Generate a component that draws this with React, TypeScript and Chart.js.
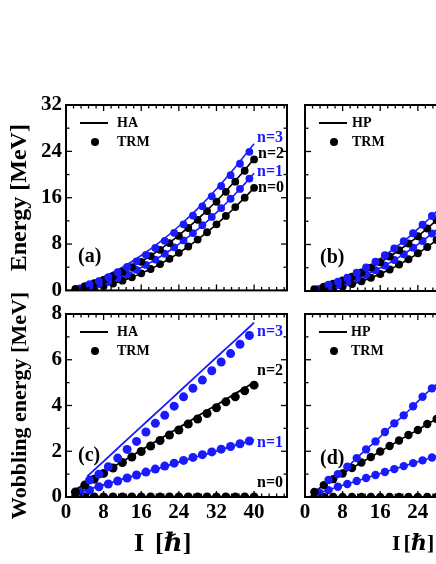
import React, { useEffect, useRef } from 'react';
import { Chart, registerables } from 'chart.js';

Chart.register(...registerables);

const BLUE = '#1a1aff';
const BLACK = '#000000';
const SERIF = '"Liberation Serif", "Times New Roman", "DejaVu Serif", serif';

// spin values
const I_EVEN = [2, 4, 6, 8, 10, 12, 14, 16, 18, 20, 22, 24, 26, 28, 30, 32, 34, 36, 38, 40];
const I_ODD_N1 = [3, 5, 7, 9, 11, 13, 15, 17, 19, 21, 23, 25, 27, 29, 31, 33, 35, 37, 39];
const I_ODD_N3 = [5, 7, 9, 11, 13, 15, 17, 19, 21, 23, 25, 27, 29, 31, 33, 35, 37, 39];
const I_HA_N3 = [4.5, 8, 12, 16, 20, 24, 28, 32, 36, 40];
const X_TICKS = [0, 8, 16, 24, 32, 40];

// panel (a)/(b): energies [MeV], TRM
const E_TRM_N0 = [0.06, 0.22, 0.45, 0.78, 1.19, 1.68, 2.27, 2.94, 3.69, 4.54, 5.46, 6.48, 7.58, 8.77, 10.04, 11.4, 12.85, 14.39, 16.01, 17.71];
const E_TRM_N1 = [0.33, 0.62, 1.05, 1.54, 2.13, 2.8, 3.55, 4.39, 5.32, 6.34, 7.44, 8.62, 9.89, 11.25, 12.68, 14.21, 15.82, 17.51, 19.3];
const E_TRM_N2 = [0.28, 0.74, 1.23, 1.81, 2.46, 3.19, 4.02, 4.93, 5.92, 7.01, 8.17, 9.41, 10.77, 12.18, 13.69, 15.3, 17.01, 18.77, 20.65, 22.6];
const E_TRM_N3 = [1.06, 1.6, 2.29, 3.13, 4.05, 5.02, 6.14, 7.32, 8.56, 9.93, 11.4, 12.91, 14.51, 16.23, 18.02, 19.88, 21.86, 23.91];

// panel (a): energies [MeV], HA
const E_HA_N0 = [0.06, 0.22, 0.45, 0.78, 1.19, 1.68, 2.27, 2.94, 3.69, 4.54, 5.46, 6.48, 7.58, 8.77, 10.04, 11.4, 12.85, 14.39, 16.01, 17.71];
const E_HA_N1 = [0.22, 0.5, 0.86, 1.31, 1.84, 2.46, 3.17, 3.96, 4.84, 5.81, 6.85, 8.0, 9.22, 10.54, 11.93, 13.41, 14.99, 16.65, 18.39, 20.22];
const E_HA_N2 = [0.38, 0.78, 1.26, 1.84, 2.5, 3.23, 4.07, 4.99, 5.98, 7.08, 8.25, 9.51, 10.86, 12.3, 13.82, 15.42, 17.12, 18.91, 20.77, 22.72];
const E_HA_N3 = [1.17, 2.34, 4.0, 6.02, 8.37, 11.07, 14.12, 17.51, 21.25, 25.33];

// panel (c)/(d): wobbling energies [MeV], TRM
const W_TRM_N0 = [0, 0, 0, 0, 0, 0, 0, 0, 0, 0, 0, 0, 0, 0, 0, 0, 0, 0, 0, 0];
const W_TRM_N1 = [0.2, 0.3, 0.45, 0.57, 0.7, 0.83, 0.96, 1.09, 1.22, 1.35, 1.48, 1.6, 1.73, 1.85, 1.97, 2.09, 2.21, 2.33, 2.45];
const W_TRM_N2 = [0.22, 0.52, 0.78, 1.03, 1.27, 1.51, 1.75, 1.99, 2.23, 2.47, 2.71, 2.93, 3.19, 3.41, 3.65, 3.9, 4.16, 4.38, 4.64, 4.89];
const W_TRM_N3 = [0.74, 1.0, 1.32, 1.7, 2.08, 2.43, 2.84, 3.22, 3.57, 3.97, 4.38, 4.75, 5.11, 5.52, 5.9, 6.27, 6.68, 7.06];

// panel (c): wobbling energies [MeV], HA
const W_HA_N0 = [0, 0, 0, 0, 0, 0, 0, 0, 0, 0, 0, 0, 0, 0, 0, 0, 0, 0, 0, 0];
const W_HA_N1 = [0.16, 0.28, 0.41, 0.53, 0.65, 0.78, 0.9, 1.02, 1.15, 1.27, 1.39, 1.52, 1.64, 1.77, 1.89, 2.01, 2.14, 2.26, 2.38, 2.51];
const W_HA_N2 = [0.32, 0.56, 0.81, 1.06, 1.31, 1.55, 1.8, 2.05, 2.29, 2.54, 2.79, 3.03, 3.28, 3.53, 3.78, 4.02, 4.27, 4.52, 4.76, 5.01];
const W_HA_N3 = [0.9, 1.56, 2.32, 3.08, 3.83, 4.59, 5.35, 6.11, 6.86, 7.62];

// panel (b)/(d): HP curves run through the TRM points
const E_HP_N0 = E_TRM_N0;
const E_HP_N1 = E_TRM_N1;
const E_HP_N2 = E_TRM_N2;
const E_HP_N3 = E_TRM_N3;
const W_HP_N0 = W_TRM_N0;
const W_HP_N1 = W_TRM_N1;
const W_HP_N2 = W_TRM_N2;
const W_HP_N3 = W_TRM_N3;

const pts = (xs: number[], ys: number[]) => xs.map((x, i) => ({ x, y: ys[i] }));

function dots(xs: number[], ys: number[], color: string, r: number) {
  return {
    data: pts(xs, ys),
    showLine: false,
    pointRadius: r,
    pointHoverRadius: r,
    pointBackgroundColor: color,
    pointBorderColor: color,
    pointBorderWidth: 0,
    clip: 0,
  };
}

function curve(xs: number[], ys: number[], color: string, w: number) {
  return {
    data: pts(xs, ys),
    showLine: true,
    borderColor: color,
    borderWidth: w,
    pointRadius: 0,
    pointHoverRadius: 0,
    cubicInterpolationMode: 'monotone',
    fill: false,
    clip: 0,
  };
}

type Box = { left: number; top: number; width: number; height: number };
type Plot = { left: number; top: number; right: number; bottom: number };
type NLabel = { text: string; color: string; x: number; y: number };

type Panel = {
  key: string;
  canvas: Box;
  plot: Plot;
  yMax: number;
  yStep: number;
  yMinor: number;
  yLabels: boolean;
  xLabels: boolean;
  yTitle?: string;
  yTitleSize?: number;
  legend: string;
  legendDx: number;
  tag: string;
  tagPos: [number, number];
  nLabels: NLabel[];
  xTitleX?: number;
  xTitleGap?: number;
  xTitleSize?: number;
  datasets: any[];
};

const PANELS: Panel[] = [
  {
    key: 'a',
    canvas: { left: 0, top: 78, width: 300, height: 229 },
    plot: { left: 66, top: 105, right: 287, bottom: 291 },
    yMax: 32, yStep: 8, yMinor: 4, yLabels: true, xLabels: false,
    yTitle: 'Energy [MeV]', yTitleSize: 24,
    legend: 'HA', legendDx: 51,
    tag: '(a)', tagPos: [78, 256.5],
    nLabels: [
      { text: 'n=3', color: BLUE, x: 257, y: 137.5 },
      { text: 'n=2', color: BLACK, x: 258, y: 153.5 },
      { text: 'n=1', color: BLUE, x: 257, y: 172 },
      { text: 'n=0', color: BLACK, x: 258, y: 188 },
    ],
    datasets: [
      dots(I_ODD_N3, E_TRM_N3, BLUE, 3.9),
      dots(I_EVEN, E_TRM_N2, BLACK, 3.9),
      dots(I_ODD_N1, E_TRM_N1, BLUE, 3.9),
      dots(I_EVEN, E_TRM_N0, BLACK, 3.9),
      curve(I_HA_N3, E_HA_N3, BLUE, 1.6),
      curve(I_EVEN, E_HA_N2, BLACK, 1.6),
      curve(I_EVEN, E_HA_N1, BLUE, 1.6),
      curve(I_EVEN, E_HA_N0, BLACK, 1.6),
    ],
  },
  {
    key: 'c',
    canvas: { left: 0, top: 282, width: 300, height: 282 },
    plot: { left: 66, top: 314, right: 287, bottom: 497 },
    yMax: 8, yStep: 2, yMinor: 1, yLabels: true, xLabels: true,
    yTitle: 'Wobbling energy [MeV]', yTitleSize: 22,
    legend: 'HA', legendDx: 51,
    tag: '(c)', tagPos: [78, 455.5],
    nLabels: [
      { text: 'n=3', color: BLUE, x: 257, y: 331.5 },
      { text: 'n=2', color: BLACK, x: 257, y: 371 },
      { text: 'n=1', color: BLUE, x: 257, y: 443 },
      { text: 'n=0', color: BLACK, x: 257, y: 482.5 },
    ],
    xTitleX: 134, xTitleGap: 11, xTitleSize: 26,
    datasets: [
      dots(I_ODD_N3, W_TRM_N3, BLUE, 4.5),
      dots(I_EVEN, W_TRM_N2, BLACK, 4.5),
      dots(I_ODD_N1, W_TRM_N1, BLUE, 4.5),
      dots(I_EVEN, W_TRM_N0, BLACK, 4.5),
      curve(I_HA_N3, W_HA_N3, BLUE, 1.8),
      curve(I_EVEN, W_HA_N2, BLACK, 1.8),
      curve(I_EVEN, W_HA_N1, BLUE, 1.8),
      curve(I_EVEN, W_HA_N0, BLACK, 1.8),
    ],
  },
  {
    key: 'b',
    canvas: { left: 296, top: 78, width: 243, height: 229 },
    plot: { left: 305, top: 105, right: 526, bottom: 291 },
    yMax: 32, yStep: 8, yMinor: 4, yLabels: false, xLabels: false,
    legend: 'HP', legendDx: 47,
    tag: '(b)', tagPos: [320, 258],
    nLabels: [],
    datasets: [
      dots(I_ODD_N3, E_TRM_N3, BLUE, 4),
      dots(I_EVEN, E_TRM_N2, BLACK, 4),
      dots(I_ODD_N1, E_TRM_N1, BLUE, 4),
      dots(I_EVEN, E_TRM_N0, BLACK, 4),
      curve(I_ODD_N3, E_HP_N3, BLUE, 1.6),
      curve(I_EVEN, E_HP_N2, BLACK, 1.6),
      curve(I_ODD_N1, E_HP_N1, BLUE, 1.6),
      curve(I_EVEN, E_HP_N0, BLACK, 1.6),
    ],
  },
  {
    key: 'd',
    canvas: { left: 296, top: 282, width: 243, height: 282 },
    plot: { left: 305, top: 314, right: 526, bottom: 497 },
    yMax: 8, yStep: 2, yMinor: 1, yLabels: false, xLabels: true,
    legend: 'HP', legendDx: 46,
    tag: '(d)', tagPos: [320, 459],
    nLabels: [],
    xTitleX: 392, xTitleGap: 3, xTitleSize: 22,
    datasets: [
      dots(I_ODD_N3, W_TRM_N3, BLUE, 4.2),
      dots(I_EVEN, W_TRM_N2, BLACK, 4.2),
      dots(I_ODD_N1, W_TRM_N1, BLUE, 4.2),
      dots(I_EVEN, W_TRM_N0, BLACK, 4.2),
      curve(I_ODD_N3, W_HP_N3, BLUE, 1.6),
      curve(I_EVEN, W_HP_N2, BLACK, 1.6),
      curve(I_ODD_N1, W_HP_N1, BLUE, 1.6),
      curve(I_EVEN, W_HP_N0, BLACK, 1.6),
    ],
  },
];

function makeDecor(p: Panel) {
  return {
    id: 'decor_' + p.key,
    afterDatasetsDraw(chart: any) {
      const { ctx, chartArea: a, scales } = chart;
      const xs = scales.x;
      const ys = scales.y;
      ctx.save();
      ctx.strokeStyle = '#000';
      ctx.lineWidth = 1.3;
      const seg = (x1: number, y1: number, x2: number, y2: number) => {
        ctx.beginPath();
        ctx.moveTo(x1, y1);
        ctx.lineTo(x2, y2);
        ctx.stroke();
      };
      for (let k = 0; k * 1.6 <= xs.max + 1e-6; k++) {
        const px = xs.getPixelForValue(k * 1.6);
        const len = k % 5 === 0 ? 6 : 3.5;
        seg(px, a.bottom, px, a.bottom - len);
        seg(px, a.top, px, a.top + len);
      }
      const nY = Math.round(p.yMax / p.yMinor);
      const ratio = Math.round(p.yStep / p.yMinor);
      for (let k = 0; k <= nY; k++) {
        const py = ys.getPixelForValue(k * p.yMinor);
        const len = k % ratio === 0 ? 6 : 3.5;
        seg(a.left, py, a.left + len, py);
        seg(a.right, py, a.right - len, py);
      }
      ctx.lineWidth = 2;
      ctx.strokeRect(a.left, a.top, a.right - a.left, a.bottom - a.top);
      ctx.restore();
    },
    afterDraw(chart: any) {
      const { ctx, chartArea: a } = chart;
      const ox = p.canvas.left;
      const oy = p.canvas.top;
      ctx.save();
      // legend
      ctx.strokeStyle = '#000';
      ctx.lineWidth = 2;
      ctx.beginPath();
      ctx.moveTo(a.left + 14, a.top + 18);
      ctx.lineTo(a.left + 42, a.top + 18);
      ctx.stroke();
      ctx.fillStyle = '#000';
      ctx.beginPath();
      ctx.arc(a.left + 29, a.top + 37, 4, 0, Math.PI * 2);
      ctx.fill();
      ctx.font = 'bold 14px ' + SERIF;
      ctx.textBaseline = 'middle';
      ctx.textAlign = 'left';
      ctx.fillText(p.legend, a.left + p.legendDx, a.top + 18);
      ctx.fillText('TRM', a.left + p.legendDx, a.top + 37);
      // panel tag
      ctx.font = 'bold 20px ' + SERIF;
      ctx.fillText(p.tag, p.tagPos[0] - ox, p.tagPos[1] - oy);
      // n labels
      ctx.font = 'bold 16px ' + SERIF;
      for (const l of p.nLabels) {
        ctx.fillStyle = l.color;
        ctx.fillText(l.text, l.x - ox, l.y - oy);
      }
      // x title
      if (p.xTitleX !== undefined) {
        const fs = p.xTitleSize || 26;
        ctx.fillStyle = '#000';
        const y = 544 - oy;
        let x = p.xTitleX - ox;
        ctx.font = `bold ${fs}px ` + SERIF;
        ctx.fillText('I', x, y);
        x += ctx.measureText('I').width + (p.xTitleGap || 6);
        ctx.fillText('[', x, y);
        x += ctx.measureText('[').width;
        ctx.font = `italic bold ${fs}px ` + SERIF;
        ctx.fillText('\u210F', x, y);
        x += ctx.measureText('\u210F').width;
        ctx.font = `bold ${fs}px ` + SERIF;
        ctx.fillText(']', x, y);
      }
      ctx.restore();
    },
  };
}

function PanelChart({ p }: { p: Panel }) {
  const ref = useRef<HTMLCanvasElement | null>(null);
  useEffect(() => {
    if (!ref.current) return;
    const xAxisH = p.canvas.top + p.canvas.height - p.plot.bottom;
    const yAxisW = p.plot.left - p.canvas.left;
    const tickFont = { family: SERIF, size: 21, weight: 'bold' as const };
    const chart = new Chart(ref.current, {
      type: 'scatter',
      data: { datasets: p.datasets as any },
      plugins: [makeDecor(p)],
      options: {
        animation: false,
        responsive: false,
        maintainAspectRatio: false,
        devicePixelRatio: 1,
        events: [],
        layout: {
          padding: {
            left: 0,
            top: p.plot.top - p.canvas.top,
            right: p.canvas.left + p.canvas.width - p.plot.right,
            bottom: 0,
          },
        },
        plugins: {
          legend: { display: false },
          tooltip: { enabled: false },
          title: { display: false },
        },
        scales: {
          x: {
            type: 'linear',
            min: 0,
            max: 47,
            grid: { display: false, drawTicks: false },
            border: { display: false },
            afterBuildTicks: (s: any) => {
              s.ticks = X_TICKS.map((v) => ({ value: v }));
            },
            ticks: {
              display: p.xLabels,
              stepSize: 8,
              includeBounds: false,
              autoSkip: false,
              maxRotation: 0,
              padding: 3,
              color: '#000',
              font: tickFont,
            },
            afterFit: (s: any) => {
              s.height = xAxisH;
            },
          },
          y: {
            type: 'linear',
            min: 0,
            max: p.yMax,
            grid: { display: false, drawTicks: false },
            border: { display: false },
            ticks: {
              display: p.yLabels,
              stepSize: p.yStep,
              includeBounds: false,
              padding: 4,
              color: '#000',
              font: tickFont,
            },
            title: {
              display: !!p.yTitle,
              text: p.yTitle || '',
              color: '#000',
              font: { family: SERIF, size: p.yTitleSize || 24, weight: 'bold' },
              padding: { top: 20 - ((p.yTitleSize || 24) * 1.2) / 2, bottom: 0 },
            },
            afterFit: (s: any) => {
              s.width = yAxisW;
            },
          },
        },
      } as any,
    });
    return () => chart.destroy();
  }, [p]);
  return (
    <canvas
      ref={ref}
      width={p.canvas.width}
      height={p.canvas.height}
      style={{
        position: 'absolute',
        left: p.canvas.left,
        top: p.canvas.top,
        width: p.canvas.width,
        height: p.canvas.height,
      }}
    />
  );
}

export default function App() {
  return (
    <div
      style={{
        position: 'fixed',
        left: 0,
        top: 0,
        width: 436,
        height: 564,
        overflow: 'hidden',
        background: '#ffffff',
      }}
    >
      {PANELS.map((p) => (
        <PanelChart key={p.key} p={p} />
      ))}
    </div>
  );
}
